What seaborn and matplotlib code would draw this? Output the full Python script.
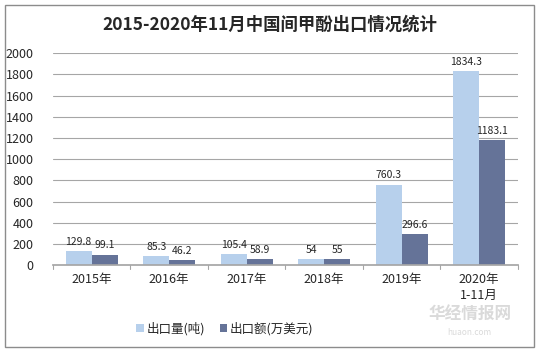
import pandas as pd
import matplotlib
matplotlib.use("Agg")
import matplotlib.pyplot as plt
from matplotlib.patches import Rectangle
import seaborn as sns

categories = ["2015年", "2016年", "2017年", "2018年", "2019年", "2020年\n1-11月"]
volume = [129.8, 85.3, 105.4, 54, 760.3, 1834.3]
value = [99.1, 46.2, 58.9, 55, 296.6, 1183.1]
series = ["出口量(吨)", "出口额(万美元)"]

sns.set_theme(style="white")
plt.rcParams["font.family"] = ["Noto Sans CJK SC", "DejaVu Sans"]

df = pd.DataFrame({
    "cat": categories * 2,
    "val": volume + value,
    "series": [series[0]] * 6 + [series[1]] * 6,
})

fig = plt.figure(figsize=(5.4, 3.54), dpi=100)
ax = fig.add_axes([0.098, 0.251, 0.861, 0.599])

sns.barplot(data=df, x="cat", y="val", hue="series", ax=ax,
            palette=["#B7D0EC", "#657398"], width=0.67, saturation=1,
            edgecolor="none")

ax.set_ylim(0, 2000)
ax.set_yticks(range(0, 2001, 200))
ax.yaxis.grid(True, color="#A6A6A6", linewidth=0.8)
ax.set_axisbelow(True)
for s in ["top", "right", "left"]:
    ax.spines[s].set_visible(False)
ax.spines["bottom"].set_color("#A6A6A6")
ax.set_xlabel("")
ax.set_ylabel("")
ax.tick_params(axis="y", length=0, labelsize=9, colors="#262626", pad=14)
ax.tick_params(axis="x", length=0, labelsize=9, colors="#262626", pad=6)
ax.set_xlim(-0.5, 5.5)
for b in range(7):
    ax.plot([b - 0.5, b - 0.5], [0, -35], color="#A6A6A6", lw=0.8, clip_on=False)

for cont in ax.containers:
    ax.bar_label(cont, labels=[f"{v:g}" for v in cont.datavalues],
                 fontsize=7.5, color="#262626", padding=3)

ax.legend(loc="center", bbox_to_anchor=(0.37, -0.3), ncol=2, frameon=False,
          fontsize=9, handlelength=0.6, handleheight=0.6, columnspacing=1.2,
          handletextpad=0.2)

fig.suptitle("2015-2020年11月中国间甲酚出口情况统计", y=0.955, fontsize=12.5,
             fontweight="bold", color="#262626")

fig.patches.append(Rectangle((0.01, 0.02), 0.978, 0.965, transform=fig.transFigure,
                             fill=False, edgecolor="#8C8C8C", linewidth=1))

fig.text(0.87, 0.095, "华经情报网", fontsize=12, color="#DADADA", ha="center",
         fontweight="bold")
fig.text(0.87, 0.055, "huaon.com", fontsize=6, color="#DADADA", ha="center")

fig.savefig("out.png", dpi=100)
